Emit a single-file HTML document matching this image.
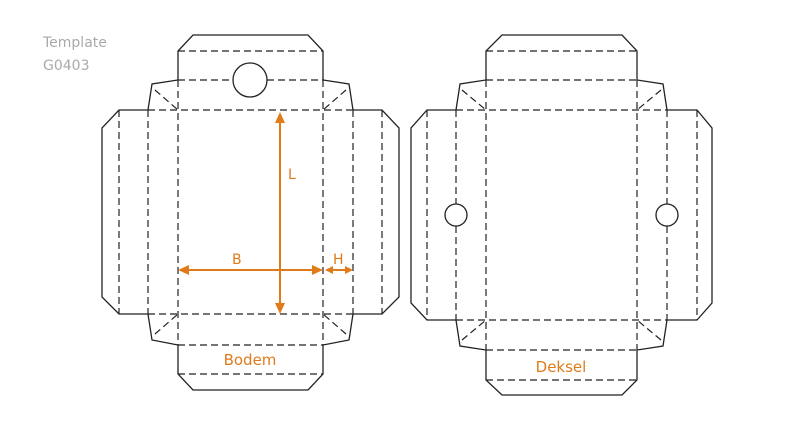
<!DOCTYPE html>
<html><head><style>body{margin:0;background:#fff}svg{display:block}</style></head><body>
<svg width="800" height="431" viewBox="0 0 800 431" xmlns="http://www.w3.org/2000/svg" font-family="DejaVu Sans, sans-serif">
<text x="43" y="47" font-size="14" fill="#aaa">Template</text>
<text x="43" y="70" font-size="14" fill="#aaa">G0403</text>
<g fill="none" stroke="#222" stroke-width="1.3">
<path d="M178,80 V51 L193,35 H308 L323,51 V80 L349,84 L353,110 H382 L399,128 V297 L382,314 H353 L349,340 L323,345 V374 L308,390 H193 L178,374 V345 L152,340 L148,314 H119 L102,297 V128 L119,110 H148 L152,84 Z"/>
<circle cx="250" cy="80" r="17" fill="#fff"/>
<path d="M486,80 V51 L502,35 H622 L637,51 V80 L663,84 L667,110 H697 L712,128 V303 L697,320 H667 L663,346 L637,350 V380 L622,395 H502 L486,380 V350 L460,346 L456,320 H427 L411,303 V128 L427,110 H456 L460,84 Z"/>
</g>
<g fill="none" stroke="#222" stroke-width="1.2" stroke-dasharray="7,4">
<path d="M178,51H323 M178,80H233 M267,80H323 M148,110H353 M148,314H353 M178,345H323 M178,374H323
M119,110V314 M148,110V314 M178,80V345 M323,80V345 M353,110V314 M382,110V314
M155,90L178,110 M346,90L323,110 M155,334L178,314 M346,334L323,314"/>
<path d="M486,51H637 M486,80H637 M456,110H667 M456,320H667 M486,350H637 M486,380H637
M427,110V320 M456,110V204 M456,226V320 M486,80V350 M637,80V350 M667,110V204 M667,226V320 M697,110V320
M462,90L486,110 M661,90L637,110 M462,340L486,320 M661,340L637,320"/>
</g>
<g fill="#fff" stroke="#222" stroke-width="1.3">
<circle cx="456" cy="215" r="11"/><circle cx="667" cy="215" r="11"/>
</g>
<g stroke="#e07b1a" stroke-width="2" fill="#e07b1a">
<line x1="280" y1="120" x2="280" y2="306"/>
<path d="M280,112 L275,123 H285Z M280,314 L275,303 H285Z" stroke="none"/>
<line x1="186" y1="270" x2="315" y2="270"/>
<path d="M178,270 L189,265 V275Z M323,270 L312,265 V275Z" stroke="none"/>
<line x1="330" y1="270" x2="348" y2="270"/>
<path d="M325,270 L333,266 V274Z M353,270 L345,266 V274Z" stroke="none"/>
</g>
<g fill="#e07b1a" font-size="14">
<text x="288" y="179">L</text>
<text x="232" y="264">B</text>
<text x="333" y="264">H</text>
<text x="250" y="365" text-anchor="middle" font-size="15">Bodem</text>
<text x="561" y="372" text-anchor="middle" font-size="15">Deksel</text>
</g>
</svg>
</body></html>
